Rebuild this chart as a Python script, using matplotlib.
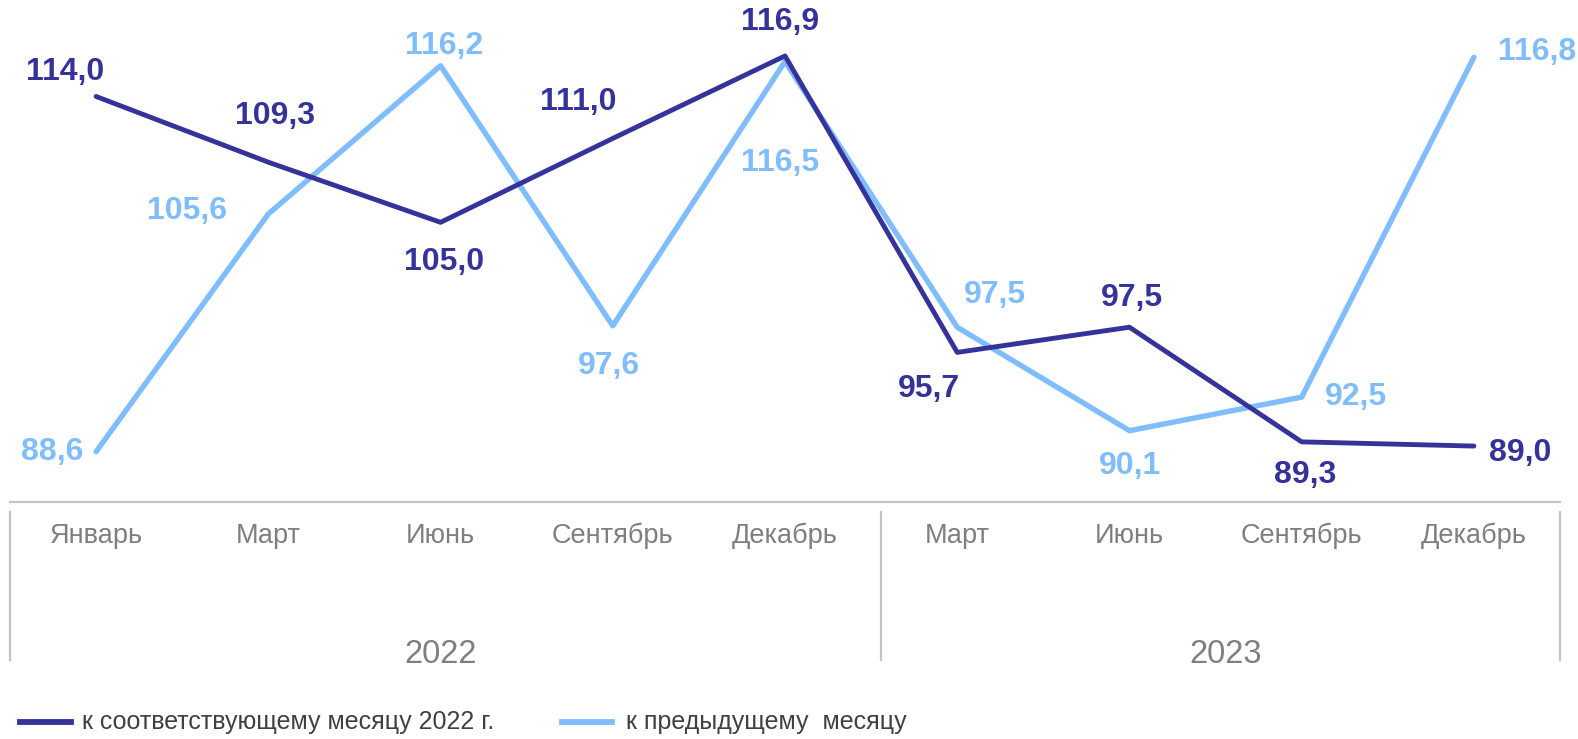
import matplotlib
matplotlib.use("Agg")
import matplotlib.pyplot as plt
from matplotlib.lines import Line2D

plt.rcParams['font.family'] = ['Liberation Sans', 'DejaVu Sans']

months = ['Январь', 'Март', 'Июнь', 'Сентябрь', 'Декабрь', 'Март', 'Июнь', 'Сентябрь', 'Декабрь']
years = ['2022', '2023']
yoy = [114.0, 109.3, 105.0, 111.0, 116.9, 95.7, 97.5, 89.3, 89.0]
mom = [88.6, 105.6, 116.2, 97.6, 116.5, 97.5, 90.1, 92.5, 116.8]
labels = ['к соответствующему месяцу 2022 г.', 'к предыдущему  месяцу']

dark = '#35339A'
light = '#80BDFF'
grey = '#7F7F7F'

# label offsets in pixels (dx, dy) from each point
yoy_off = [(-31, 24), (7, 46), (4, -40), (-35, 36), (-5, 34), (-28, -37), (2, 29), (3, -33), (46, -7)]
mom_off = [(-44, 0), (-81, 3), (4, 20), (-4, -40), (-5, -101), (38, 32), (1, -35), (54, 0), (63, 5)]

W, H = 1578, 739
fig = plt.figure(figsize=(W / 100, H / 100), dpi=100)
ax = fig.add_axes([10 / W, 1 - 502 / H, 1550 / W, 502 / H])

x = list(range(len(months)))
ax.plot(x, yoy, color=dark, lw=3.5, clip_on=False, solid_capstyle='round', zorder=3)
ax.plot(x, mom, color=light, lw=3.9, clip_on=False, solid_capstyle='round', zorder=2)

for xi, v, (dx, dy) in zip(x, yoy, yoy_off):
    ax.annotate(f'{v:.1f}'.replace('.', ','), (xi, v), xytext=(dx, dy),
                textcoords='offset pixels', ha='center', va='center',
                fontsize=23, fontweight='bold', color=dark, annotation_clip=False)
for xi, v, (dx, dy) in zip(x, mom, mom_off):
    ax.annotate(f'{v:.1f}'.replace('.', ','), (xi, v), xytext=(dx, dy),
                textcoords='offset pixels', ha='center', va='center',
                fontsize=23, fontweight='bold', color=light, annotation_clip=False)

ax.set_xlim(-0.5, 8.5)
ax.set_ylim(85.0, 120.9)
ax.set_yticks([])
ax.set_xticks([])
for s in ['top', 'left', 'right']:
    ax.spines[s].set_visible(False)
ax.spines['bottom'].set_color('#C4C4C4')
ax.spines['bottom'].set_linewidth(1.6)

tr = ax.get_xaxis_transform()
for xi, m in zip(x, months):
    ax.text(xi, -0.068, m, transform=tr, ha='center', va='center', fontsize=19.5, color=grey)

# year groups
for xs in [-0.5, 4.56, 8.5]:
    ax.plot([xs, xs], [-0.02, -0.315], transform=tr, color='#C4C4C4', lw=1.6, clip_on=False)
ax.text(2.0, -0.303, years[0], transform=tr, ha='center', va='center', fontsize=23.5, color=grey)
ax.text(6.56, -0.303, years[1], transform=tr, ha='center', va='center', fontsize=23.5, color=grey)

# legend
ly = 1 - 722 / H
fig.add_artist(Line2D([20 / W, 71 / W], [ly, ly], color=dark, lw=4.2))
fig.text(82 / W, ly, labels[0], ha='left', va='center', fontsize=18, color='#404040')
fig.add_artist(Line2D([562 / W, 612 / W], [ly, ly], color=light, lw=4.2))
fig.text(626 / W, ly, labels[1], ha='left', va='center', fontsize=18, color='#404040')

fig.savefig('out.png', dpi=100)
